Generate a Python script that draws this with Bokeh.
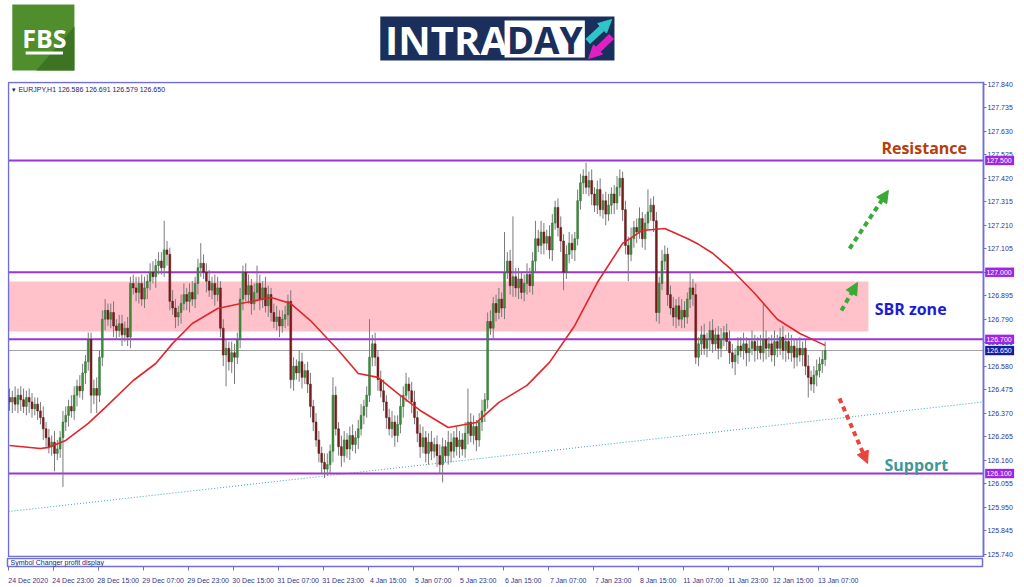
from bokeh.plotting import figure
from bokeh.models import (Range1d, FixedTicker, Label, Arrow, NormalHead,
                          ColumnDataSource, PrintfTickFormatter, LinearAxis)
from bokeh.layouts import column
from bokeh.embed import file_html
from bokeh.resources import INLINE
from bokeh.core.properties import value

# ---------------- data ----------------
first_open = 126.44
closes = [
    126.42, 126.44, 126.41, 126.45, 126.43, 126.40, 126.44, 126.42, 126.39, 126.41,
    126.38, 126.35, 126.30, 126.26, 126.22, 126.24, 126.19, 126.21, 126.26, 126.33,
    126.36, 126.40, 126.38, 126.45, 126.49, 126.47, 126.55, 126.60, 126.70, 126.45,
    126.48, 126.45, 126.62, 126.79, 126.83, 126.79, 126.82, 126.76, 126.74, 126.77,
    126.72, 126.75, 126.71, 126.95, 126.93, 126.91, 126.95, 126.88, 126.93, 126.96,
    127.00, 126.98, 127.03, 127.05, 127.02, 127.10, 127.08, 126.87, 126.84, 126.80,
    126.82, 126.86, 126.90, 126.87, 126.91, 126.88, 126.95, 127.02, 127.04, 127.00,
    126.96, 126.92, 126.95, 126.90, 126.93, 126.75, 126.63, 126.66, 126.60, 126.64,
    126.62, 126.70, 126.88, 127.00, 126.90, 126.94, 126.86, 126.91, 126.95, 126.88,
    126.93, 126.85, 126.90, 126.82, 126.78, 126.80, 126.76, 126.79, 126.81, 126.87,
    126.52, 126.58, 126.55, 126.60, 126.53, 126.56, 126.50, 126.40, 126.33, 126.25,
    126.19, 126.15, 126.12, 126.14, 126.20, 126.45, 126.30, 126.22, 126.18, 126.25,
    126.21, 126.27, 126.23, 126.26, 126.30, 126.36, 126.40, 126.45, 126.62, 126.68,
    126.62, 126.52, 126.47, 126.42, 126.35, 126.30, 126.33, 126.27, 126.32, 126.40,
    126.45, 126.50, 126.47, 126.42, 126.35, 126.28, 126.22, 126.26, 126.19, 126.24,
    126.20, 126.23, 126.18, 126.14, 126.22, 126.18, 126.24, 126.20, 126.26, 126.22,
    126.25, 126.21, 126.28, 126.33, 126.27, 126.31, 126.25, 126.33, 126.38, 126.43,
    126.78, 126.75, 126.86, 126.82, 126.88, 126.84, 127.00, 127.05, 126.94, 126.98,
    126.93, 126.97, 126.91, 126.95, 126.99, 126.94, 127.05, 127.15, 127.12, 127.18,
    127.13, 127.16, 127.10, 127.22, 127.29, 127.20, 127.14, 127.00, 127.08, 127.13,
    127.10, 127.15, 127.32, 127.40, 127.43, 127.38, 127.41, 127.35, 127.30, 127.37,
    127.28, 127.32, 127.26, 127.30, 127.35, 127.31, 127.38, 127.42, 127.28, 127.12,
    127.08, 127.15, 127.20, 127.18, 127.24, 127.15, 127.22, 127.27, 127.30, 127.23,
    126.82, 126.95, 127.05, 127.08, 126.90, 126.84, 126.80, 126.85, 126.79, 126.83,
    126.80, 126.88, 126.93, 126.90, 126.62, 126.68, 126.72, 126.66, 126.70, 126.74,
    126.68, 126.72, 126.66, 126.70, 126.73, 126.69, 126.64, 126.60, 126.63, 126.67,
    126.65, 126.68, 126.64, 126.66, 126.69, 126.65, 126.67, 126.64, 126.70, 126.66,
    126.68, 126.63, 126.69, 126.66, 126.71, 126.65, 126.69, 126.64, 126.67, 126.62,
    126.66, 126.63, 126.66, 126.58, 126.53, 126.50, 126.54, 126.56, 126.59, 126.61,
    126.65,
]
# wick lengths above / below the body, in hundredths of a yen
upper_wick = [
    4, 3, 5, 3, 4, 5, 3, 4, 4, 3,   3, 4, 5, 3, 4, 3, 5, 4, 3, 5,
    4, 3, 5, 4, 3, 5, 4, 3, 3, 3,   4, 5, 3, 4, 5, 3, 4, 5, 3, 4,
    4, 3, 5, 3, 4, 5, 3, 4, 5, 3,   4, 5, 3, 4, 4, 13, 4, 3, 5, 4,
    3, 4, 5, 3, 4, 5, 3, 4, 9, 4,   4, 5, 3, 4, 5, 3, 4, 4, 3, 5,
    4, 3, 5, 3, 4, 5, 3, 4, 8, 4,   3, 5, 4, 3, 4, 5, 3, 4, 4, 3,
    5, 4, 3, 5, 4, 3, 4, 5, 3, 4,   4, 3, 4, 5, 3, 8, 4, 3, 5, 4,
    3, 4, 5, 3, 4, 5, 3, 4, 17, 4,  5, 3, 4, 5, 3, 4, 5, 3, 4, 5,
    4, 5, 3, 4, 5, 3, 4, 5, 3, 4,   5, 3, 4, 5, 4, 3, 5, 4, 3, 5,
    4, 3, 5, 15, 4, 5, 3, 4, 5, 3,  4, 5, 3, 4, 5, 3, 18, 4, 5, 27,
    4, 5, 3, 4, 5, 3, 4, 8, 4, 5,   4, 3, 5, 4, 3, 4, 5, 3, 4, 5,
    4, 3, 5, 4, 3, 6, 4, 5, 3, 4,   5, 3, 4, 5, 3, 4, 5, 4, 3, 4,
    4, 5, 3, 4, 5, 3, 4, 10, 3, 4,  4, 3, 5, 4, 3, 4, 5, 3, 4, 5,
    4, 3, 7, 4, 5, 3, 4, 5, 3, 4,   5, 3, 4, 5, 3, 4, 5, 4, 3, 4,
    4, 5, 3, 4, 5, 3, 4, 5, 16, 4,  3, 4, 5, 3, 4, 5, 3, 4, 5, 3,
    4, 5, 3, 4, 5, 3, 4, 5, 3, 4,   4,
]
lower_wick = [
    4, 5, 3, 4, 5, 3, 4, 5, 4, 3,   4, 3, 5, 4, 3, 4, 8, 3, 4, 22,
    4, 5, 3, 4, 5, 3, 4, 5, 4, 8,   4, 8, 3, 4, 5, 3, 4, 5, 4, 3,
    5, 3, 4, 5, 3, 4, 5, 3, 4, 5,   4, 3, 5, 4, 3, 4, 5, 4, 3, 5,
    4, 5, 3, 4, 5, 3, 4, 5, 4, 3,   5, 3, 4, 5, 3, 4, 5, 14, 4, 5,
    12, 3, 4, 5, 3, 4, 5, 3, 4, 5,  4, 3, 5, 4, 3, 4, 5, 3, 4, 5,
    4, 5, 3, 4, 5, 3, 4, 5, 4, 3,   4, 5, 4, 3, 4, 5, 3, 4, 5, 3,
    4, 5, 3, 4, 5, 3, 4, 5, 3, 4,   4, 5, 3, 4, 5, 3, 4, 5, 3, 4,
    5, 3, 4, 5, 3, 4, 5, 3, 4, 5,   4, 3, 5, 4, 8, 3, 4, 5, 3, 4,
    5, 3, 4, 5, 3, 4, 5, 3, 4, 5,   4, 3, 5, 4, 3, 4, 5, 3, 4, 5,
    4, 5, 3, 4, 5, 3, 4, 5, 3, 4,   5, 3, 4, 5, 3, 4, 5, 8, 3, 4,
    4, 5, 3, 4, 5, 3, 4, 5, 3, 4,   3, 4, 5, 3, 4, 5, 3, 4, 5, 4,
    12, 3, 4, 5, 3, 4, 5, 3, 4, 5,  4, 5, 3, 4, 5, 3, 4, 5, 3, 4,
    5, 3, 4, 5, 3, 4, 5, 3, 4, 5,   4, 3, 5, 4, 3, 4, 5, 3, 6, 4,
    3, 4, 6, 4, 3, 5, 4, 3, 4, 5,   4, 3, 5, 4, 3, 4, 5, 3, 4, 5,
    4, 3, 5, 4, 9, 3, 4, 5, 3, 4,   3,
]
# red moving average, sampled along the curve (bar index, price)
ma_bar = [0, 11, 14, 20, 28, 34, 44, 52, 58, 65, 74, 84, 93, 100, 107, 117, 124,
          131, 138, 146, 156, 166, 174, 184, 192, 201, 209, 218, 225, 233, 241,
          245, 250, 257, 265, 273, 281, 290]
ma_price = [126.225, 126.212, 126.217, 126.248, 126.324, 126.395, 126.516, 126.592,
            126.682, 126.771, 126.838, 126.865, 126.887, 126.860, 126.784, 126.650,
            126.547, 126.530, 126.458, 126.382, 126.306, 126.328, 126.418, 126.494,
            126.597, 126.762, 126.954, 127.129, 127.187, 127.196, 127.151, 127.125,
            127.085, 127.008, 126.905, 126.790, 126.726, 126.673]
level_prices = [127.500, 127.000, 126.700, 126.100]
last_price = 126.650
zone_prices = [126.735, 126.959]          # SBR zone bottom / top
zone_bars = [-0.36, 305.4]
chart_bars = [-0.36, 346.3]               # left edge / price-scale edge, in bars
chart_prices = [125.729, 127.849]         # bottom / top of the price window
trend_bars = [-0.36, 346.3]
trend_prices = [125.930, 126.420]
price_ticks = [127.840, 127.735, 127.630, 127.525, 127.420, 127.315, 127.210,
               127.105, 127.000, 126.895, 126.790, 126.685, 126.580, 126.475,
               126.370, 126.265, 126.160, 126.055, 125.950, 125.845, 125.740]
date_labels = ["24 Dec 2020", "24 Dec 23:00", "28 Dec 15:00", "29 Dec 07:00",
               "29 Dec 23:00", "30 Dec 15:00", "31 Dec 07:00", "31 Dec 23:00",
               "4 Jan 15:00", "5 Jan 07:00", "5 Jan 23:00", "6 Jan 15:00",
               "7 Jan 07:00", "7 Jan 23:00", "8 Jan 15:00", "11 Jan 07:00",
               "11 Jan 23:00", "12 Jan 15:00", "13 Jan 07:00"]
note_text = ["Resistance", "SBR zone", "Support"]
note_bar = [310.0, 307.6, 311.1]
note_price = [127.554, 126.834, 126.140]
note_color = ["#b4400e", "#1c1cd6", "#3d9898"]
# arrows: (bar start, price start, bar end, price end, colour)
arrows = [(298.7, 127.106, 312.5, 127.366, "#3aa935"),
          (295.8, 126.829, 301.5, 126.954, "#3aa935"),
          (295.1, 126.436, 305.1, 126.145, "#e8453c")]

# ---------------- build candles ----------------
n = min(len(closes), len(upper_wick), len(lower_wick))
opens = [first_open] + closes[:n - 1]
bars = list(range(n))
highs = [max(opens[i], closes[i]) + upper_wick[i] / 100 for i in range(n)]
lows = [min(opens[i], closes[i]) - lower_wick[i] / 100 for i in range(n)]
up = [closes[i] >= opens[i] for i in range(n)]
body_col = ["#3e8e3e" if u else "#7b1c1c" for u in up]
edge_col = ["#2a6a2a" if u else "#5a1010" for u in up]
src = ColumnDataSource(dict(x=bars, o=opens[:n], c=closes[:n], h=highs, l=lows,
                            top=[max(opens[i], closes[i]) for i in range(n)],
                            bot=[min(opens[i], closes[i]) for i in range(n)],
                            fc=body_col, lc=edge_col))

BORDER = "#6f6fd6"
LABEL = "#34348c"
W = 1020
BAR_PX = 2.8125
# main chart frame covers the price scale too, so the scale can carry tags
M_LEFT = 6
M_FRAME_W = 1011
XS = -2 / BAR_PX
XE = XS + M_FRAME_W / BAR_PX
# sub-window frame stops at the price scale
B_LEFT, B_RIGHT = 7, 38
XSB = -1 / BAR_PX
XEB = XSB + (W - B_LEFT - B_RIGHT) / BAR_PX

# ---------------- header (logos) ----------------
h = figure(width=W, height=81, x_range=Range1d(0, W), y_range=Range1d(81, 0),
           x_axis_location=None, y_axis_location=None, toolbar_location=None,
           output_backend="svg", min_border=0, outline_line_color=None)
h.grid.visible = False
h.quad(left=[5], right=[70], top=[4], bottom=[70], fill_color="#4f8d2d", line_color=None)
h.patch([70, 70, 30], [26, 70, 70], fill_color="#3d7424", line_color=None)
h.text(x=[38.5], y=[37], text=["FBS"], text_font=value("Open Sans"), text_font_style="bold",
       text_font_size="25px", text_color="white", text_align="center", text_baseline="middle")
h.quad(left=[19], right=[58], top=[51], bottom=[54], fill_color="white", line_color=None)
h.quad(left=[390], right=[635], top=[16], bottom=[60], fill_color="#1b2f5c", line_color=None)
h.quad(left=[520], right=[604], top=[20], bottom=[57], fill_color="white", line_color=None)
h.text(x=[395], y=[39], text=["INTRA"], text_font=value("Open Sans"), text_font_style="bold",
       text_font_size="40px", text_color="white", text_align="left", text_baseline="middle")
h.text(x=[562], y=[39], text=["DAY"], text_font=value("Open Sans"), text_font_style="bold",
       text_font_size="37px", text_color="#1b2f5c", text_align="center", text_baseline="middle")
h.add_layout(Arrow(end=NormalHead(size=13, fill_color="#2ec6c8", line_color="#2ec6c8"),
                   x_start=607, y_start=41, x_end=632, y_end=19,
                   line_color="#2ec6c8", line_width=7))
h.add_layout(Arrow(end=NormalHead(size=13, fill_color="#e21fc2", line_color="#e21fc2"),
                   x_start=632, y_start=36, x_end=608, y_end=58,
                   line_color="#e21fc2", line_width=7))

# ---------------- main chart ----------------
p = figure(frame_width=M_FRAME_W, frame_height=476,
           x_range=Range1d(XS, XE), y_range=Range1d(125.7245, 127.853),
           x_axis_location=None, y_axis_location="right", toolbar_location=None,
           output_backend="svg", min_border_left=M_LEFT, min_border_right=0,
           min_border_top=0, min_border_bottom=0,
           outline_line_color=None, background_fill_color="white")
p.grid.visible = False
p.quad(left=[zone_bars[0]], right=[zone_bars[1]], bottom=[zone_prices[0]], top=[zone_prices[1]],
       fill_color="#ffc2cb", line_color=None)
p.line(trend_bars, trend_prices, line_color="#3ca2bb", line_width=1, line_dash="1 2")
p.segment(x0=[chart_bars[0]], x1=[chart_bars[1]], y0=[last_price], y1=[last_price],
          line_color="#a0a0a0", line_width=1)
p.segment(x0=[chart_bars[0]] * len(level_prices), x1=[chart_bars[1]] * len(level_prices),
          y0=level_prices, y1=level_prices, line_color="#9b34d8", line_width=2)
p.segment(x0="x", y0="l", x1="x", y1="h", source=src, line_color="#7a7a7a", line_width=1)
p.vbar(x="x", width=0.66, top="top", bottom="bot", source=src, fill_color="fc", line_color="lc",
       line_width=0.5)
p.line(ma_bar, ma_price, line_color="#e0262a", line_width=1.6)
# window border (the right edge is the price-scale axis line)
p.quad(left=[chart_bars[0]], right=[chart_bars[1]], bottom=[chart_prices[0]],
       top=[chart_prices[1]], fill_color=None, line_color=BORDER, line_width=1.5)

for t, bx, pr, col in zip(note_text, note_bar, note_price, note_color):
    p.text(x=[bx], y=[pr], text=[t], text_font=value("Open Sans"), text_font_style="bold",
           text_font_size="16px", text_color=col, text_align="left", text_baseline="middle")
for xs_, ys_, xe_, ye_, col in arrows:
    p.add_layout(Arrow(end=NormalHead(size=12, fill_color=col, line_color=col),
                       x_start=xs_, y_start=ys_, x_end=xe_, y_end=ye_,
                       line_color=col, line_width=4, line_dash="5 4"))

p.add_layout(Label(x=chart_bars[0], y=chart_prices[1], x_offset=4, y_offset=-7,
                   text="\u25be EURJPY,H1  126.586 126.691 126.579 126.650",
                   text_font="Liberation Sans", text_font_size="7px",
                   text_color="#1c1c70", text_baseline="middle"))

# price scale drawn at the window's right edge
ax = p.yaxis[0]
ax.fixed_location = chart_bars[1]
ax.ticker = FixedTicker(ticks=price_ticks)
ax.formatter = PrintfTickFormatter(format="%.3f")
ax.axis_line_color = BORDER
ax.axis_line_width = 1.5
ax.major_tick_line_color = BORDER
ax.major_tick_out = 3
ax.major_tick_in = 0
ax.minor_tick_line_color = None
ax.major_label_standoff = 1
ax.major_label_text_font = "Liberation Sans"
ax.major_label_text_font_size = "7px"
ax.major_label_text_color = LABEL

# price tags on the scale
tag_prices = level_prices + [last_price]
tag_colors = ["#a024e6"] * len(level_prices) + ["#1a1aa0"]
tag_left = chart_bars[1] + 0.6
tag_right = chart_bars[1] + 10.9
p.quad(left=[tag_left] * len(tag_prices), right=[tag_right] * len(tag_prices),
       bottom=[v - 0.021 for v in tag_prices], top=[v + 0.021 for v in tag_prices],
       fill_color=tag_colors, line_color=None, level="overlay")
p.text(x=[tag_left + 0.45] * len(tag_prices), y=tag_prices,
       text=[f"{v:.3f}" for v in tag_prices], text_font=value("Liberation Sans"),
       text_font_size="7px", text_color="white", text_align="left",
       text_baseline="middle", level="overlay")

# ---------------- sub-window + time axis ----------------
b = figure(width=W, height=29, x_range=Range1d(XSB, XEB), y_range=Range1d(0, 1),
           x_axis_location=None, y_axis_location=None, toolbar_location=None,
           output_backend="svg", min_border_left=B_LEFT, min_border_right=B_RIGHT,
           min_border_top=1, min_border_bottom=0,
           outline_line_color=BORDER, outline_line_width=1.5)
b.grid.visible = False
b.add_layout(Label(x=XSB, y=0.5, x_offset=3, text="Symbol Changer profit display",
                   text_font="Liberation Sans", text_font_size="7px",
                   text_color="#1c1c70", text_baseline="middle"))
tick_bars = [16 * k for k in range(len(date_labels))]
tick_axis = LinearAxis(ticker=FixedTicker(ticks=tick_bars),
                       major_label_overrides={t: "" for t in tick_bars},
                       axis_line_color=BORDER, major_tick_line_color=BORDER,
                       major_tick_out=4, major_tick_in=0, minor_tick_line_color=None,
                       major_label_standoff=0, major_label_text_font_size="1px")
label_pos = [t + 7.0 for t in tick_bars]
label_axis = LinearAxis(ticker=FixedTicker(ticks=label_pos),
                        major_label_overrides={lp: lab for lp, lab in zip(label_pos, date_labels)},
                        axis_line_color=None, major_tick_line_color=None,
                        minor_tick_line_color=None, major_label_standoff=0,
                        major_label_text_font="Liberation Sans",
                        major_label_text_font_size="7px",
                        major_label_text_color=LABEL)
b.add_layout(tick_axis, "below")
b.add_layout(label_axis, "below")

# the empty axis panel right of the wide frame falls outside the clipped column
layout = column(h, p, b, spacing=0, width=W, styles={"overflow": "hidden"})
open("out.html", "w").write(file_html(layout, INLINE))
